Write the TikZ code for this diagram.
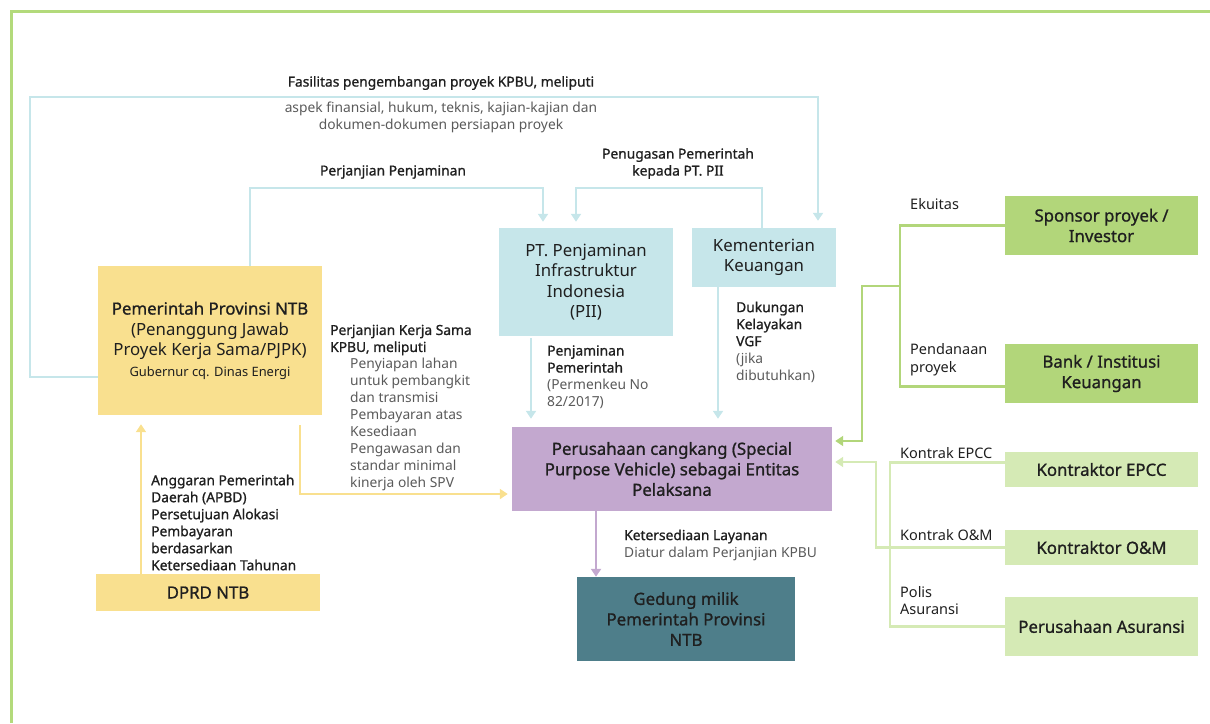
\documentclass[tikz,border=0pt]{standalone}
\usepackage{fontspec}
\setmainfont{Noto Sans}
\newfontfamily\medfont{Noto Sans}[FakeBold=1]
\usetikzlibrary{arrows.meta}
\definecolor{frameg}{HTML}{B3DA7B}
\definecolor{bluel}{HTML}{C6E6EA}
\definecolor{yell}{HTML}{F9E08F}
\definecolor{purp}{HTML}{C3A8CF}
\definecolor{teal}{HTML}{4E7E8A}
\definecolor{greendk}{HTML}{B2D67A}
\definecolor{greenlt}{HTML}{D5EAB5}
\definecolor{txt}{HTML}{1F1F1F}
\definecolor{gry}{HTML}{5A5A5A}
\newcommand{\lbold}[1]{{\medfont #1}}
\newcommand{\lgray}[1]{\textcolor{gry}{#1}}
\begin{document}
\begin{tikzpicture}[x=1pt, y=-1pt,
    box/.style={inner sep=0pt, align=center, text=txt, font=\fontsize{16.8}{20.5}\selectfont},
    lbl/.style={inner sep=0pt, align=left, anchor=west, text=txt, font=\fontsize{13.8}{17}\selectfont},
    sidelbl/.style={lbl, font=\fontsize{14.5}{17.5}\selectfont},
    link/.style={line width=2.5pt},
    tip/.style={-{Triangle[width=10pt,length=8pt]}}]
  \useasboundingbox (0,0) rectangle (1210,723);
  \draw[frameg, line width=3pt] (11,723) -- (11,11) -- (1210,11);

  % boxes
  \node[box, fill=yell, minimum width=224pt, minimum height=149pt] (pemprov) at (210,340.5)
    {\lbold{Pemerintah Provinsi NTB}\\(Penanggung Jawab\\Proyek Kerja Sama/PJPK)\\{\fontsize{12.9}{16}\selectfont Gubernur cq. Dinas Energi}};
  \node[box, fill=yell, minimum width=224pt, minimum height=37pt] (dprd) at (208,592.5) {\lbold{DPRD NTB}};
  \node[box, fill=bluel, minimum width=174pt, minimum height=108pt] (pii) at (586,282)
    {PT. Penjaminan\\Infrastruktur\\Indonesia\\(PII)};
  \node[box, fill=bluel, minimum width=144pt, minimum height=59pt] (kemenkeu) at (764,257.5)
    {Kementerian\\Keuangan};
  \node[box, fill=purp, minimum width=320pt, minimum height=84pt] (spv) at (672,469)
    {\lbold{Perusahaan cangkang (Special}\\\lbold{Purpose Vehicle) sebagai Entitas}\\\lbold{Pelaksana}};
  \node[box, fill=teal, minimum width=218pt, minimum height=84pt] (gedung) at (686,619)
    {\lbold{Gedung milik}\\\lbold{Pemerintah Provinsi}\\\lbold{NTB}};
  \node[box, fill=greendk, minimum width=193pt, minimum height=59pt] (sponsor) at (1101.5,225.5)
    {\lbold{Sponsor proyek /}\\\lbold{Investor}};
  \node[box, fill=greendk, minimum width=193pt, minimum height=59pt] (bank) at (1101.5,373.5)
    {\lbold{Bank / Institusi}\\\lbold{Keuangan}};
  \node[box, fill=greenlt, minimum width=193pt, minimum height=35pt] (epcc) at (1101.5,469.5)
    {\lbold{Kontraktor EPCC}};
  \node[box, fill=greenlt, minimum width=193pt, minimum height=35pt] (om) at (1101.5,547.5)
    {\lbold{Kontraktor O\&M}};
  \node[box, fill=greenlt, minimum width=193pt, minimum height=59pt] (asuransi) at (1101.5,626.5)
    {\lbold{Perusahaan Asuransi}};

  % blue links
  \draw[link, bluel, tip, shorten >=7pt] ([yshift=-36.5pt]pemprov.west) -| (30,97) -| ([xshift=54pt]kemenkeu.north);
  \draw[link, bluel, tip, shorten >=6pt] ([xshift=40pt]pemprov.north) -- ++(0,-78) -| ([xshift=-43pt]pii.north);
  \draw[link, bluel, tip, shorten >=6pt] ([xshift=-2pt]kemenkeu.north) -- ++(0,-40) -| ([xshift=-10pt]pii.north);
  \draw[link, bluel, tip, shorten <=2pt, shorten >=8pt] ([xshift=-55pt]pii.south) -- ([xshift=-55pt]pii.south |- spv.north);
  \draw[link, bluel, tip, shorten >=8pt] ([xshift=-46pt]kemenkeu.south) -- ([xshift=-46pt]kemenkeu.south |- spv.north);

  % yellow links
  \draw[link, yell, tip, shorten >=9pt] ([xshift=-67pt]dprd.north) -- ([xshift=-67pt]dprd.north |- pemprov.south);
  \draw[link, yell, tip, shorten <=10pt, shorten >=4pt] ([xshift=90pt]pemprov.south) |- ([yshift=-25pt]spv.west);

  % purple link
  \draw[link, purp, tip] ([xshift=-76pt]spv.south) -- ([xshift=-76pt]spv.south |- gedung.north);

  % green links
  \coordinate (fund) at (900,286);
  \draw[link, greendk] (sponsor.west) -| (fund) |- ([yshift=-13pt]bank.west);
  \draw[link, greendk, tip, shorten >=3pt] (fund) -- ++(-38,0) |- ([yshift=28pt]spv.east);
  \draw[link, greenlt] ([yshift=7pt]epcc.west) -| ([xshift=-115pt]asuransi.west) -- (asuransi.west);
  \draw[link, greenlt, tip, shorten >=3pt] (om.west) -- ++(-129,0) |- ([yshift=7pt]spv.east);

  % labels
  \node[lbl, anchor=center] (fasil) at (441,83) {\lbold{Fasilitas pengembangan proyek KPBU, meliputi}};
  \node[lbl, anchor=center, align=center, text=gry] (fasilisi) at (441,117.5)
    {aspek finansial, hukum, teknis, kajian-kajian dan\\dokumen-dokumen persiapan proyek};
  \node[lbl, anchor=center] (penj) at (393,172) {\lbold{Perjanjian Penjaminan}};
  \node[lbl, anchor=center, align=center] (penug) at (678,163.5)
    {\lbold{Penugasan Pemerintah}\\\lbold{kepada PT. PII}};
  \node[lbl] (pks) at (330,408)
    {\lbold{Perjanjian Kerja Sama}\\\lbold{KPBU, meliputi}\\
     \hspace*{20pt}\lgray{Penyiapan lahan}\\\hspace*{20pt}\lgray{untuk pembangkit}\\
     \hspace*{20pt}\lgray{dan transmisi}\\\hspace*{20pt}\lgray{Pembayaran atas}\\
     \hspace*{20pt}\lgray{Kesediaan}\\\hspace*{20pt}\lgray{Pengawasan dan}\\
     \hspace*{20pt}\lgray{standar minimal}\\\hspace*{20pt}\lgray{kinerja oleh SPV}};
  \node[lbl] (apbd) at (151,522.5)
    {\lbold{Anggaran Pemerintah}\\\lbold{Daerah (APBD)}\\\lbold{Persetujuan Alokasi}\\
     \lbold{Pembayaran}\\\lbold{berdasarkan}\\\lbold{Ketersediaan Tahunan}};
  \node[lbl] (pjpem) at (547,377)
    {\lbold{Penjaminan}\\\lbold{Pemerintah}\\\lgray{(Permenkeu No}\\\lgray{82/2017)}};
  \node[lbl] (vgf) at (736,342)
    {\lbold{Dukungan}\\\lbold{Kelayakan}\\\lbold{VGF}\\\lgray{(jika}\\\lgray{dibutuhkan)}};
  \node[lbl] (layanan) at (624,545)
    {\lbold{Ketersediaan Layanan}\\\lgray{Diatur dalam Perjanjian KPBU}};
  \node[sidelbl] (ekuitas) at (910,204) {Ekuitas};
  \node[sidelbl] (pendanaan) at (910,359.5) {Pendanaan\\proyek};
  \node[sidelbl] (kepcc) at (900,453) {Kontrak EPCC};
  \node[sidelbl] (kom) at (900,535) {Kontrak O\&M};
  \node[sidelbl] (polis) at (900,600.5) {Polis\\Asuransi};
\end{tikzpicture}
\end{document}
